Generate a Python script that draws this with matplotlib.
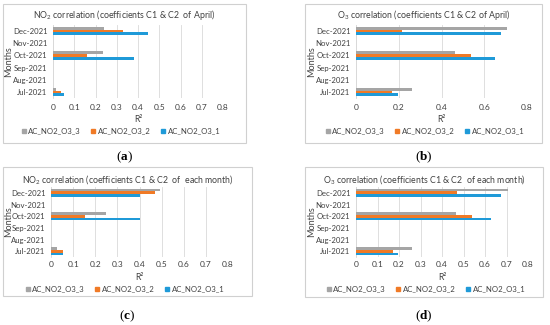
import matplotlib.pyplot as plt
import numpy as np
from matplotlib.patches import Patch, Rectangle

plt.rcParams['font.family'] = ['Lato', 'DejaVu Sans']
plt.rcParams['mathtext.fontset'] = 'custom'
plt.rcParams['mathtext.rm'] = 'Lato'
plt.rcParams['mathtext.it'] = 'Lato'
plt.rcParams['mathtext.bf'] = 'Liberation Serif:bold'

W, H = 550, 325
nan = np.nan

months = ['Jul-2021', 'Aug-2021', 'Sep-2021', 'Oct-2021', 'Nov-2021', 'Dec-2021']
series_names = ['AC_NO2_O3_1', 'AC_NO2_O3_2', 'AC_NO2_O3_3']
series_colors = ['#1F9AD8', '#F07A26', '#A5A5A5']

# panel (a): NO2, coefficients of April
a_s1 = [0.05, nan, nan, 0.383, nan, 0.447]
a_s2 = [0.036, nan, nan, 0.16, nan, 0.33]
a_s3 = [0.015, nan, nan, 0.237, nan, 0.242]
# panel (b): O3, coefficients of April
b_s1 = [0.195, nan, nan, 0.648, nan, 0.68]
b_s2 = [0.17, nan, nan, 0.54, nan, 0.215]
b_s3 = [0.26, nan, nan, 0.462, nan, 0.705]
# panel (c): NO2, coefficients of each month
c_s1 = [0.053, nan, nan, 0.403, nan, 0.403]
c_s2 = [0.056, nan, nan, 0.154, nan, 0.471]
c_s3 = [0.026, nan, nan, 0.249, nan, 0.494]
# panel (d): O3, coefficients of each month
d_s1 = [0.195, nan, nan, 0.63, nan, 0.675]
d_s2 = [0.17, nan, nan, 0.54, nan, 0.47]
d_s3 = [0.26, nan, nan, 0.465, nan, 0.705]

titles = [r'NO$_2$ correlation (coefficients C1 & C2  of April)',
          r'O$_3$ correlation (coefficients C1 & C2 of April)',
          r'NO$_2$ correlation (coefficients C1 & C2  of  each month)',
          r'O$_3$ correlation (coefficients C1 & C2  of each month)']
captions = [r'($\mathbf{a}$)', r'($\mathbf{b}$)', r'($\mathbf{c}$)', r'($\mathbf{d}$)']
x_steps = [0.1, 0.2, 0.1, 0.1]

# layout in pixels
layout = [
    dict(box=(3, 4, 246, 143), ax=(53, 25, 223, 98), title_y=15, tick_y=108, r2_y=120,
         leg=(121, 131), ylab_x=9, cap_y=157),
    dict(box=(305, 4, 542, 143), ax=(356, 25, 527, 98), title_y=15, tick_y=108, r2_y=120,
         leg=(425, 131), ylab_x=312, cap_y=157),
    dict(box=(3, 167, 252, 296), ax=(51, 187, 228, 257), title_y=179, tick_y=265, r2_y=277,
         leg=(125, 289), ylab_x=9, cap_y=316),
    dict(box=(305, 167, 543, 297), ax=(356, 187, 528, 257), title_y=179, tick_y=265, r2_y=277,
         leg=(426, 289), ylab_x=312, cap_y=316),
]
panel_data = [(a_s1, a_s2, a_s3), (b_s1, b_s2, b_s3), (c_s1, c_s2, c_s3), (d_s1, d_s2, d_s3)]


def fx(x):
    return x / W


def fy(y):
    return 1 - y / H


fig = plt.figure(figsize=(W / 100, H / 100), dpi=100)

for p in range(4):
    lay = layout[p]
    bx0, by0, bx1, by1 = lay['box']
    fig.patches.append(Rectangle((fx(bx0), fy(by1)), fx(bx1 - bx0), (by1 - by0) / H,
                                 transform=fig.transFigure, fill=False, ec='#D0D0D0', lw=0.8))
    ax0, ay0, ax1, ay1 = lay['ax']
    ax = fig.add_axes([fx(ax0), fy(ay1), fx(ax1 - ax0), (ay1 - ay0) / H])

    y = np.arange(len(months))
    h = 0.23
    offs = [-h, 0, h]
    for k, vals in enumerate(panel_data[p]):
        ax.barh(y + offs[k], np.array(vals, dtype=float), height=h, color=series_colors[k], zorder=3)

    ax.set_xlim(0, 0.8)
    ax.set_ylim(-0.5, len(months) - 0.5)
    ticks = np.round(np.arange(0, 0.8001, x_steps[p]), 2)
    ax.set_xticks(ticks)
    ax.set_xticklabels([('%g' % t) for t in ticks], fontsize=6.0, color='#404040')
    ax.set_yticks(y)
    ax.set_yticklabels(months, fontsize=5.6, color='#404040')
    ax.tick_params(length=0)
    ax.tick_params(axis='y', pad=4)
    ax.tick_params(axis='x', pad=(lay['tick_y'] - ay1 - 4) * 0.72)
    ax.grid(axis='x', color='#D9D9D9', lw=0.6, zorder=0)
    for s in ['top', 'right', 'bottom']:
        ax.spines[s].set_visible(False)
    ax.spines['left'].set_color('#D9D9D9')
    ax.spines['left'].set_linewidth(0.6)

    fig.text(fx((bx0 + bx1) / 2), fy(lay['title_y']), titles[p], ha='center', va='center',
             fontsize=6.3, color='#404040')
    fig.text(fx((ax0 + ax1) / 2), fy(lay['r2_y']), 'R²', ha='center', va='center',
             fontsize=6.2, color='#404040')
    fig.text(fx(lay['ylab_x']), fy((ay0 + ay1) / 2), 'Months', ha='center', va='center',
             rotation=90, fontsize=6.5, color='#404040')

    handles = [Patch(color=series_colors[k]) for k in [2, 1, 0]]
    labels = [series_names[k] for k in [2, 1, 0]]
    lx, ly = lay['leg']
    fig.legend(handles, labels, loc='center', bbox_to_anchor=(fx(lx), fy(ly)), ncol=3,
               frameon=False, fontsize=5.6, handlelength=0.5, handleheight=0.5,
               handletextpad=0.3, columnspacing=1.4, labelcolor='#404040',
               borderpad=0, borderaxespad=0)

    fig.text(fx((bx0 + bx1) / 2), fy(lay['cap_y']), captions[p], ha='center', va='center',
             fontsize=9.5, family='Liberation Serif')

fig.savefig('out.png', dpi=100)
